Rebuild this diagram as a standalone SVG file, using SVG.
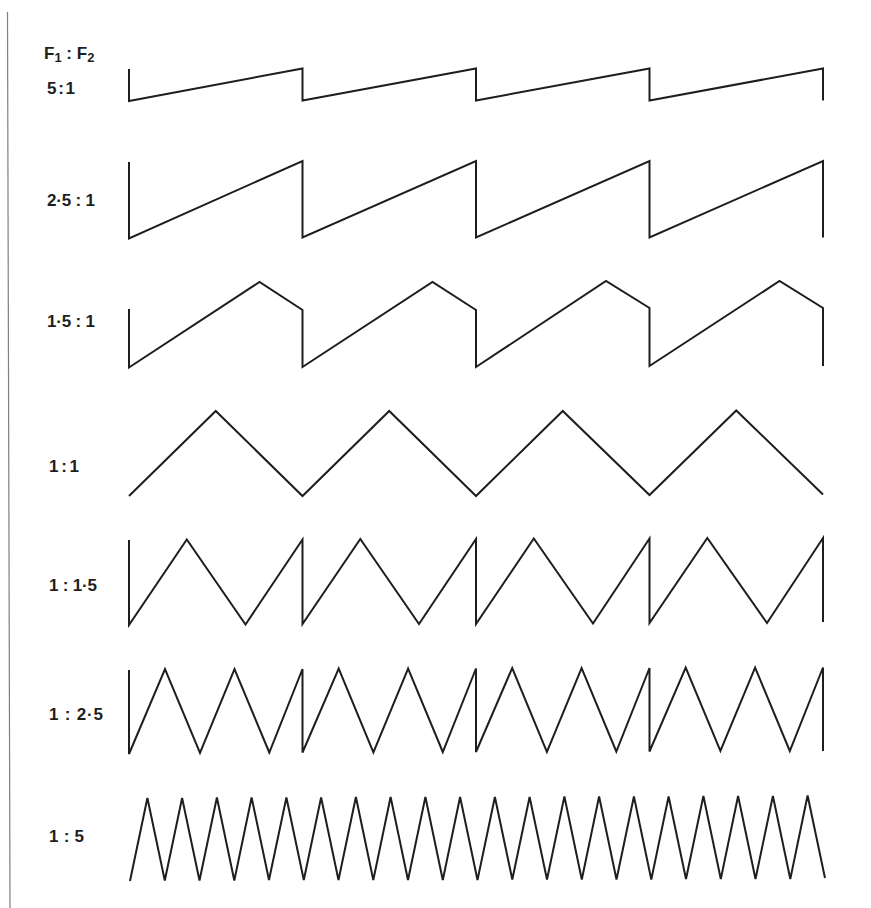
<svg xmlns="http://www.w3.org/2000/svg" width="871" height="908" viewBox="0 0 871 908">
<style>
.lbl{font-family:"Liberation Sans",Arial,sans-serif;font-weight:bold;font-size:17px;fill:#1e1e1e}
.wave{fill:none;stroke:#1e1e1e;stroke-width:2;stroke-linejoin:miter;stroke-linecap:butt}
.border{stroke:#808080;stroke-width:1.2;fill:none}
</style>
<rect width="871" height="908" fill="#ffffff"/>
<line class="border" x1="7.5" y1="12" x2="10" y2="908"/>
<g id="header">
<text class="lbl" x="44" y="59">F<tspan font-size="13" dy="3">1</tspan><tspan dy="-3"> : F</tspan><tspan font-size="13" dy="3">2</tspan></text>
</g>
<g id="row-5-1">
<text class="lbl" x="47" y="94" textLength="28" lengthAdjust="spacing">5 : 1</text>
<path class="wave" d="M129,69 V101 L302.5,68.5 V100.5 L476,68.5 V100.5 L649.5,68.5 V100.5 L823,68.5 V100.5"/>
</g>
<g id="row-2.5-1">
<text class="lbl" x="47" y="206" textLength="48" lengthAdjust="spacing">2·5 : 1</text>
<path class="wave" d="M129,162 V238.5 L302.5,161 V237.5 L476,161 V237.5 L649.5,161 V237.5 L823,161 V237.5"/>
</g>
<g id="row-1.5-1">
<text class="lbl" x="47" y="327" textLength="48" lengthAdjust="spacing">1·5 : 1</text>
<path class="wave" d="M129,309 V367.5 L259.5,282 L302.5,310 V367 L432.5,282 L476,310 V367 L606,281 L649.5,308 V366 L779.5,281 L823,308 V366"/>
</g>
<g id="row-1-1">
<text class="lbl" x="49" y="472" textLength="30" lengthAdjust="spacing">1 : 1</text>
<path class="wave" d="M129,496 L215.75,411 L302.5,496 L389.25,411 L476,496 L562.75,411 L649.5,495 L736.25,410.5 L823,494.5"/>
</g>
<g id="row-1-1.5">
<text class="lbl" x="49" y="591" textLength="48" lengthAdjust="spacing">1 : 1·5</text>
<path class="wave" d="M129,540 V625 L186.8,539.5 L245.5,624.5 L302.5,539.5 V624 L360.3,539 L419,624 L476,539 V624 L533.8,538.5 L593,623.5 L649.5,538.5 V623 L707.3,538 L767,623 L823,538 V622"/>
</g>
<g id="row-1-2.5">
<text class="lbl" x="49" y="720" textLength="54" lengthAdjust="spacing">1 : 2·5</text>
<path class="wave" d="M129,670 V754 L165,669 L200,753 L234.5,669 L269.3,752.5 L302.5,669 V752.5 L338.7,668.5 L373.4,752.5 L408.1,668.5 L442.8,752 L476,668.5 V752 L512.2,668 L546.9,752 L581.6,668 L616.3,751.5 L649.5,668 V751.5 L685.7,667.5 L720.4,751 L755.1,667.5 L789.8,751 L823,667.5 V751"/>
</g>
<g id="row-1-5">
<text class="lbl" x="49" y="842" textLength="35" lengthAdjust="spacing">1 : 5</text>
<path class="wave" d="M130,881 L147.4,798 L164.8,880.5 L182.1,798 L199.5,880.5 L216.9,797.5 L234.3,880.5 L251.6,797.5 L269,880 L286.4,797.5 L303.8,880 L321.1,797.5 L338.5,880 L355.9,797 L373.3,880 L390.6,797 L408,880 L425.4,797 L442.8,880 L460.1,797 L477.5,880 L494.9,797 L512.3,879.5 L529.6,797 L547,879.5 L564.4,796.5 L581.8,879.5 L599.1,796.5 L616.5,879.5 L633.9,796.5 L651.3,879.5 L668.6,796.5 L686,879 L703.4,796 L720.8,879 L738.1,796 L755.5,879 L772.9,796 L790.3,879 L807.6,795.5 L825,878"/>
</g>
</svg>
